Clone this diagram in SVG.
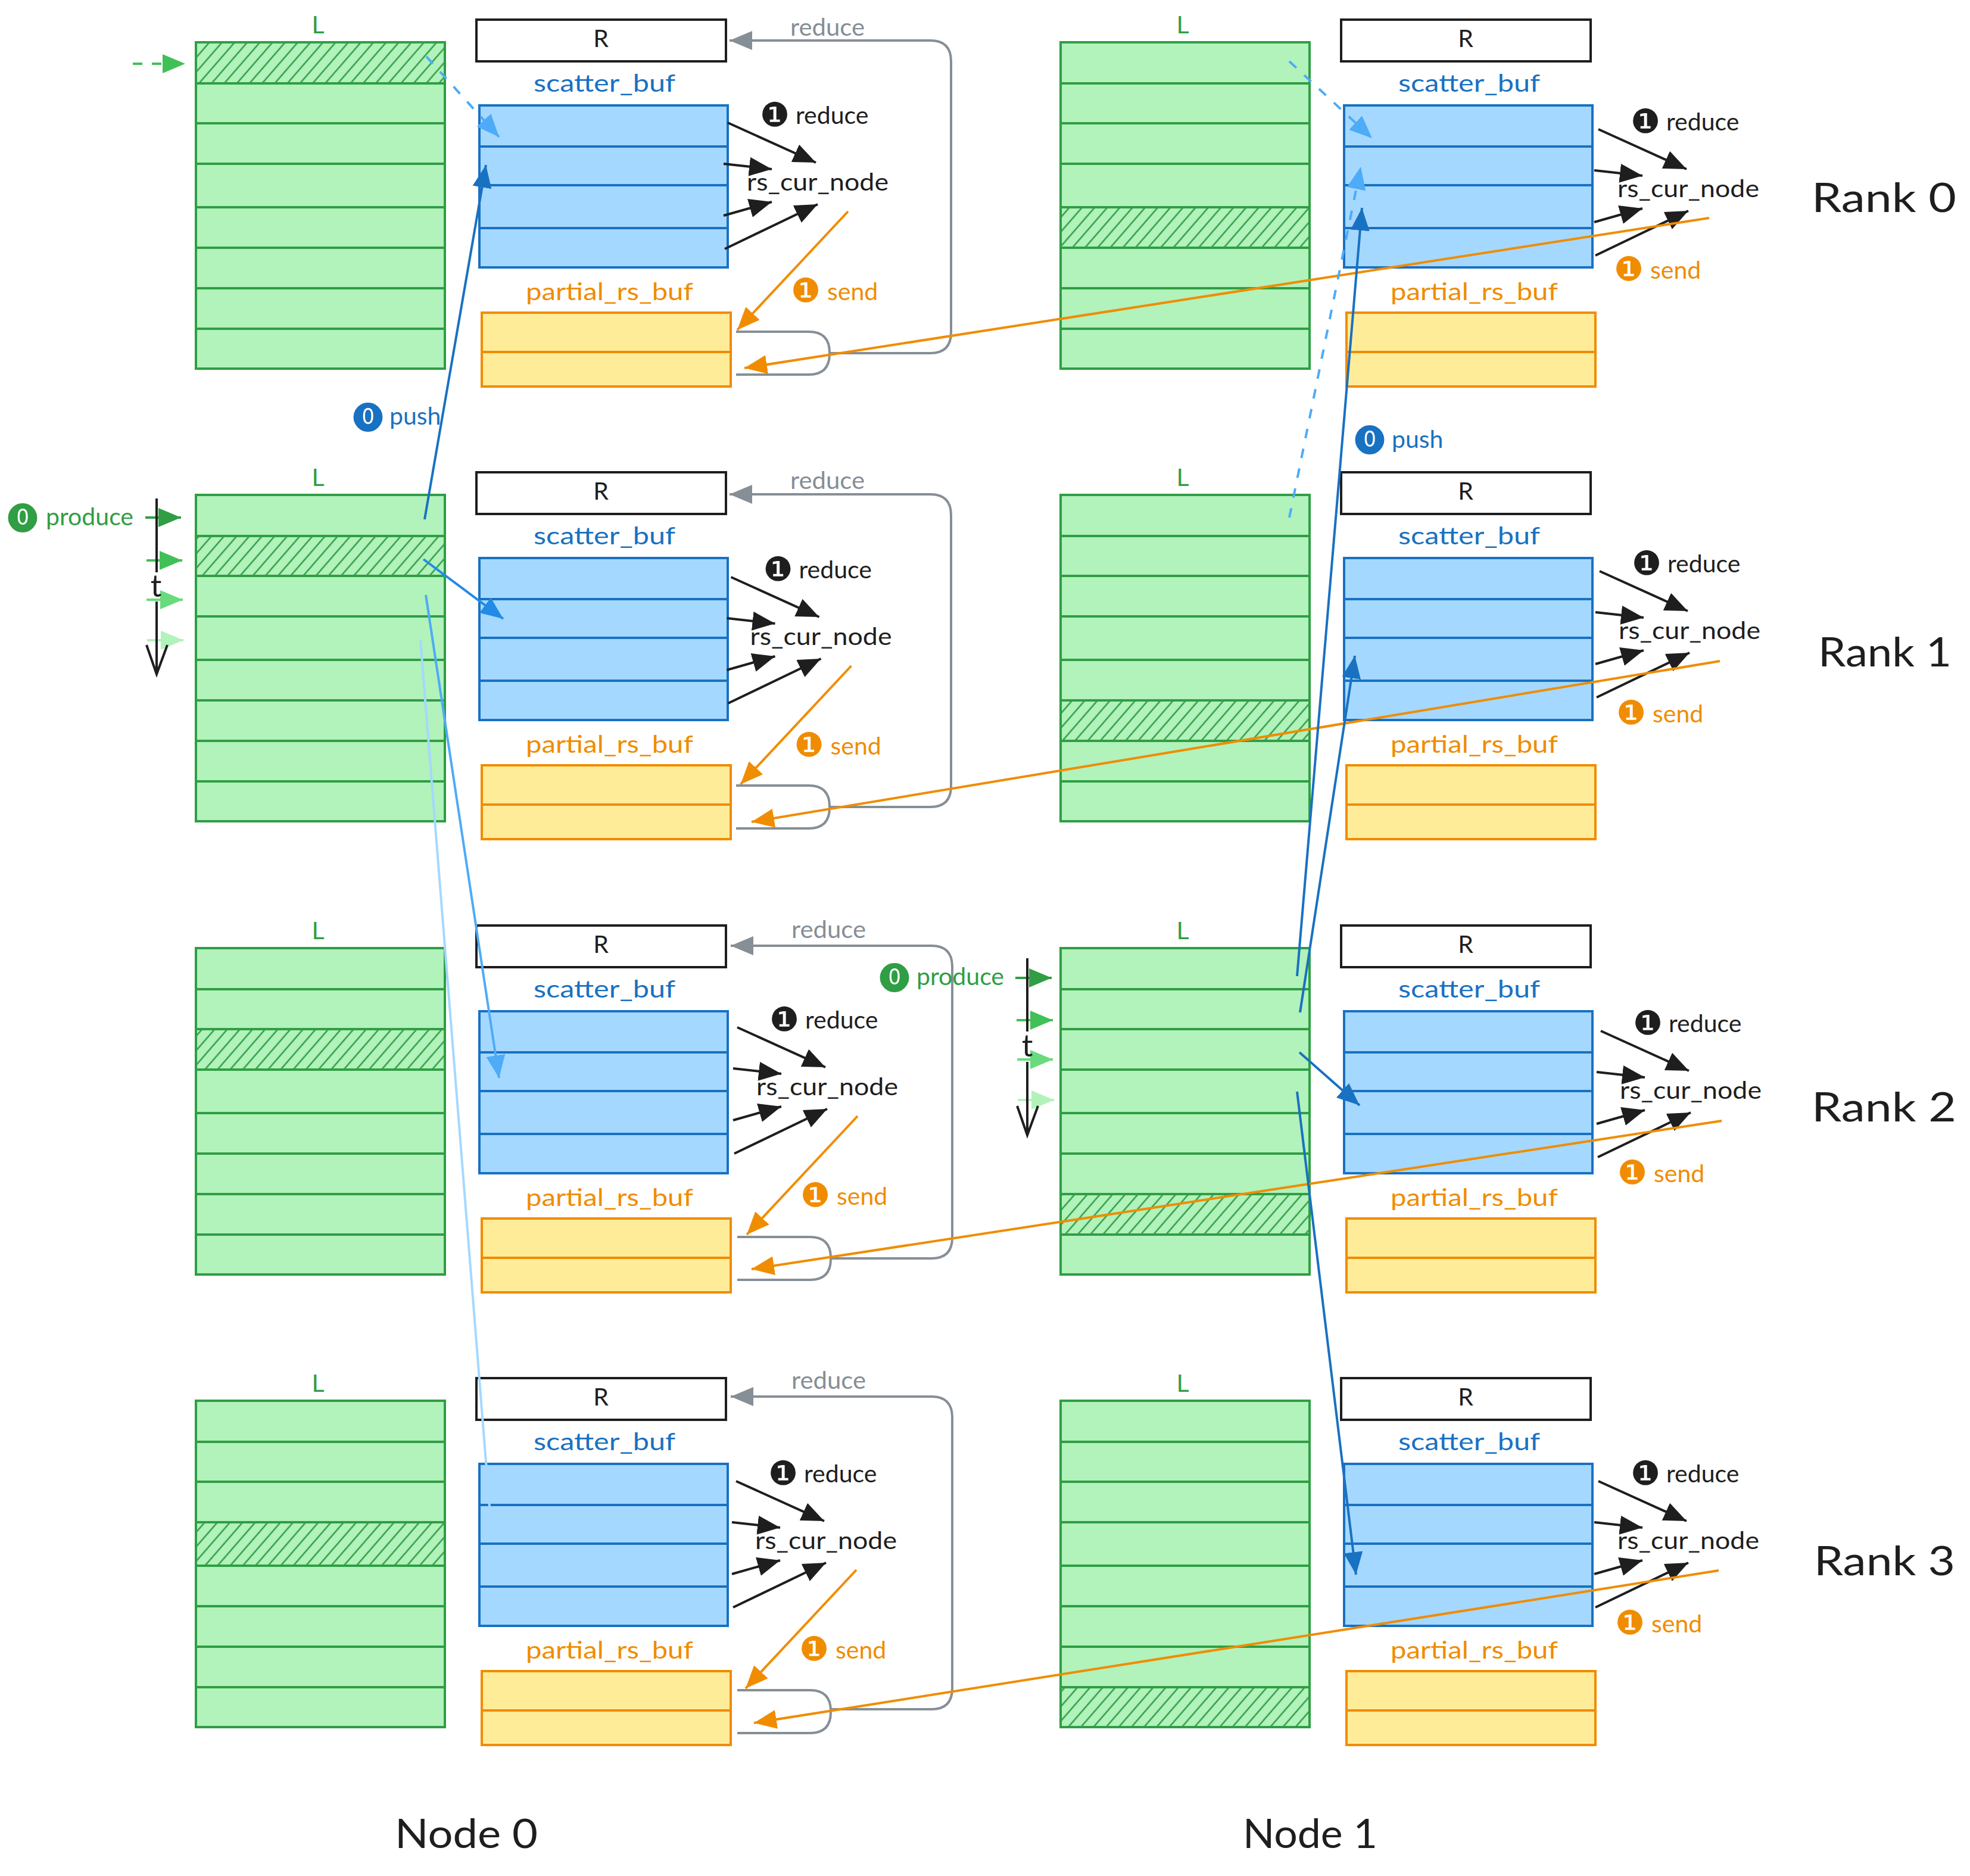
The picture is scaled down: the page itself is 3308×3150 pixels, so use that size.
<svg xmlns="http://www.w3.org/2000/svg" width="3308" height="3150" viewBox="0 0 3308 3150">
<style>
text{font-family:"Lato","DejaVu Sans",sans-serif;font-size:41px;fill:#1e1e1e}
.m{text-anchor:middle}
.g{fill:#2f9e44}.b{fill:#1971c2}.o{fill:#f08c00}.y{fill:#868e96}
.big{font-size:68px}
.t{font-size:52px}
.c{font-family:"DejaVu Sans",sans-serif;font-size:56px}
.z{font-family:"DejaVu Sans",sans-serif;font-size:49px}
.lf{fill:#b2f2bb;stroke:#2f9e44;stroke-width:4}
.ln{fill:none;stroke:#2f9e44;stroke-width:4}
.h{fill:url(#hatch)}
.rb{fill:#fff;stroke:#1e1e1e;stroke-width:4}
.sf{fill:#a5d8ff;stroke:#1971c2;stroke-width:4}
.sl{fill:none;stroke:#1971c2;stroke-width:4}
.pf{fill:#ffec99;stroke:#f08c00;stroke-width:4}
.pl{fill:none;stroke:#f08c00;stroke-width:4}
.a{fill:none;stroke-width:4}
.k{stroke:#1e1e1e;marker-end:url(#mk)}
.or{stroke:#f08c00;marker-end:url(#mo)}
.gy{stroke:#868e96;stroke-width:4;fill:none}
.gya{marker-end:url(#my)}
.b1{stroke:#1971c2;marker-end:url(#mb1)}
.b2{stroke:#228be6;marker-end:url(#mb2)}
.b3{stroke:#4dabf7;marker-end:url(#mb3)}
.b4{stroke:#a5d8ff;marker-end:url(#mb4)}
.ds{stroke-dasharray:16 18}
.g1{stroke:#2f9e44;marker-end:url(#mg1)}
.g2{stroke:#40c057;marker-end:url(#mg2)}
.g3{stroke:#69db7c;marker-end:url(#mg3)}
.g4{stroke:#b2f2bb;marker-end:url(#mg4)}
.ax{fill:none;stroke:#1e1e1e;stroke-width:4}
</style>
<defs>
<pattern id="hatch" patternUnits="userSpaceOnUse" width="16" height="16" patternTransform="rotate(41)"><path d="M8 0V16" stroke="#2f9e44" stroke-width="2.5"/></pattern>
<marker id="mk" markerUnits="userSpaceOnUse" markerWidth="38" markerHeight="32" refX="38" refY="16" orient="auto"><path d="M0 0L38 16L0 32z" fill="#1e1e1e"/></marker>
<marker id="mo" markerUnits="userSpaceOnUse" markerWidth="38" markerHeight="32" refX="38" refY="16" orient="auto"><path d="M0 0L38 16L0 32z" fill="#f08c00"/></marker>
<marker id="my" markerUnits="userSpaceOnUse" markerWidth="38" markerHeight="32" refX="38" refY="16" orient="auto"><path d="M0 0L38 16L0 32z" fill="#868e96"/></marker>
<marker id="mb1" markerUnits="userSpaceOnUse" markerWidth="38" markerHeight="32" refX="38" refY="16" orient="auto"><path d="M0 0L38 16L0 32z" fill="#1971c2"/></marker>
<marker id="mb2" markerUnits="userSpaceOnUse" markerWidth="38" markerHeight="32" refX="38" refY="16" orient="auto"><path d="M0 0L38 16L0 32z" fill="#228be6"/></marker>
<marker id="mb3" markerUnits="userSpaceOnUse" markerWidth="38" markerHeight="32" refX="38" refY="16" orient="auto"><path d="M0 0L38 16L0 32z" fill="#4dabf7"/></marker>
<marker id="mb4" markerUnits="userSpaceOnUse" markerWidth="38" markerHeight="32" refX="38" refY="16" orient="auto"><path d="M0 0L38 16L0 32z" fill="#a5d8ff"/></marker>
<marker id="mg1" markerUnits="userSpaceOnUse" markerWidth="38" markerHeight="32" refX="38" refY="16" orient="auto"><path d="M0 0L38 16L0 32z" fill="#2f9e44"/></marker>
<marker id="mg2" markerUnits="userSpaceOnUse" markerWidth="38" markerHeight="32" refX="38" refY="16" orient="auto"><path d="M0 0L38 16L0 32z" fill="#40c057"/></marker>
<marker id="mg3" markerUnits="userSpaceOnUse" markerWidth="38" markerHeight="32" refX="38" refY="16" orient="auto"><path d="M0 0L38 16L0 32z" fill="#69db7c"/></marker>
<marker id="mg4" markerUnits="userSpaceOnUse" markerWidth="38" markerHeight="32" refX="38" refY="16" orient="auto"><path d="M0 0L38 16L0 32z" fill="#b2f2bb"/></marker>
</defs>

<!-- Node 0 -->
<g id="n0r0" transform="translate(0,0)">
<g id="n0r0-L"><text class="m g" x="534" y="56">L</text><rect class="lf" x="329" y="71" width="418" height="548"/><rect class="h" x="329" y="71" width="418" height="69"/><path class="ln" d="M329 140H747M329 207H747M329 275H747M329 348H747M329 416H747M329 484H747M329 552H747"/></g>
<g id="n0r0-R"><rect class="rb" x="800" y="33" width="419" height="70"/><text class="m" x="1009" y="79">R</text></g>
<g id="n0r0-S"><text class="b" x="896" y="154" textLength="238" lengthAdjust="spacingAndGlyphs">scatter_buf</text><rect class="sf" x="805" y="177" width="417" height="272"/><path class="sl" d="M805 246H1222M805 311H1222M805 383H1222"/></g>
<g id="n0r0-P"><text class="o" x="883" y="504" textLength="281" lengthAdjust="spacingAndGlyphs">partial_rs_buf</text><rect class="pf" x="809" y="525" width="418" height="124"/><path class="pl" d="M809 591H1227"/></g>
</g>
<g id="n0r1" transform="translate(0,760)">
<g id="n0r1-L"><text class="m g" x="534" y="56">L</text><rect class="lf" x="329" y="71" width="418" height="548"/><rect class="h" x="329" y="140" width="418" height="67"/><path class="ln" d="M329 140H747M329 207H747M329 275H747M329 348H747M329 416H747M329 484H747M329 552H747"/></g>
<g id="n0r1-R"><rect class="rb" x="800" y="33" width="419" height="70"/><text class="m" x="1009" y="79">R</text></g>
<g id="n0r1-S"><text class="b" x="896" y="154" textLength="238" lengthAdjust="spacingAndGlyphs">scatter_buf</text><rect class="sf" x="805" y="177" width="417" height="272"/><path class="sl" d="M805 246H1222M805 311H1222M805 383H1222"/></g>
<g id="n0r1-P"><text class="o" x="883" y="504" textLength="281" lengthAdjust="spacingAndGlyphs">partial_rs_buf</text><rect class="pf" x="809" y="525" width="418" height="124"/><path class="pl" d="M809 591H1227"/></g>
</g>
<g id="n0r2" transform="translate(0,1521)">
<g id="n0r2-L"><text class="m g" x="534" y="56">L</text><rect class="lf" x="329" y="71" width="418" height="548"/><rect class="h" x="329" y="207" width="418" height="68"/><path class="ln" d="M329 140H747M329 207H747M329 275H747M329 348H747M329 416H747M329 484H747M329 552H747"/></g>
<g id="n0r2-R"><rect class="rb" x="800" y="33" width="419" height="70"/><text class="m" x="1009" y="79">R</text></g>
<g id="n0r2-S"><text class="b" x="896" y="154" textLength="238" lengthAdjust="spacingAndGlyphs">scatter_buf</text><rect class="sf" x="805" y="177" width="417" height="272"/><path class="sl" d="M805 246H1222M805 311H1222M805 383H1222"/></g>
<g id="n0r2-P"><text class="o" x="883" y="504" textLength="281" lengthAdjust="spacingAndGlyphs">partial_rs_buf</text><rect class="pf" x="809" y="525" width="418" height="124"/><path class="pl" d="M809 591H1227"/></g>
</g>
<g id="n0r3" transform="translate(0,2281)">
<g id="n0r3-L"><text class="m g" x="534" y="56">L</text><rect class="lf" x="329" y="71" width="418" height="548"/><rect class="h" x="329" y="275" width="418" height="73"/><path class="ln" d="M329 140H747M329 207H747M329 275H747M329 348H747M329 416H747M329 484H747M329 552H747"/></g>
<g id="n0r3-R"><rect class="rb" x="800" y="33" width="419" height="70"/><text class="m" x="1009" y="79">R</text></g>
<g id="n0r3-S"><text class="b" x="896" y="154" textLength="238" lengthAdjust="spacingAndGlyphs">scatter_buf</text><rect class="sf" x="805" y="177" width="417" height="272"/><path class="sl" d="M805 246H1222M805 311H1222M805 383H1222"/></g>
<g id="n0r3-P"><text class="o" x="883" y="504" textLength="281" lengthAdjust="spacingAndGlyphs">partial_rs_buf</text><rect class="pf" x="809" y="525" width="418" height="124"/><path class="pl" d="M809 591H1227"/></g>
</g>

<!-- Node 1 -->
<g id="n1r0" transform="translate(1452,0)">
<g id="n1r0-L"><text class="m g" x="534" y="56">L</text><rect class="lf" x="329" y="71" width="418" height="548"/><rect class="h" x="329" y="348" width="418" height="68"/><path class="ln" d="M329 140H747M329 207H747M329 275H747M329 348H747M329 416H747M329 484H747M329 552H747"/></g>
<g id="n1r0-R"><rect class="rb" x="800" y="33" width="419" height="70"/><text class="m" x="1009" y="79">R</text></g>
<g id="n1r0-S"><text class="b" x="896" y="154" textLength="238" lengthAdjust="spacingAndGlyphs">scatter_buf</text><rect class="sf" x="805" y="177" width="417" height="272"/><path class="sl" d="M805 246H1222M805 311H1222M805 383H1222"/></g>
<g id="n1r0-P"><text class="o" x="883" y="504" textLength="281" lengthAdjust="spacingAndGlyphs">partial_rs_buf</text><rect class="pf" x="809" y="525" width="418" height="124"/><path class="pl" d="M809 591H1227"/></g>
</g>
<g id="n1r1" transform="translate(1452,760)">
<g id="n1r1-L"><text class="m g" x="534" y="56">L</text><rect class="lf" x="329" y="71" width="418" height="548"/><rect class="h" x="329" y="416" width="418" height="68"/><path class="ln" d="M329 140H747M329 207H747M329 275H747M329 348H747M329 416H747M329 484H747M329 552H747"/></g>
<g id="n1r1-R"><rect class="rb" x="800" y="33" width="419" height="70"/><text class="m" x="1009" y="79">R</text></g>
<g id="n1r1-S"><text class="b" x="896" y="154" textLength="238" lengthAdjust="spacingAndGlyphs">scatter_buf</text><rect class="sf" x="805" y="177" width="417" height="272"/><path class="sl" d="M805 246H1222M805 311H1222M805 383H1222"/></g>
<g id="n1r1-P"><text class="o" x="883" y="504" textLength="281" lengthAdjust="spacingAndGlyphs">partial_rs_buf</text><rect class="pf" x="809" y="525" width="418" height="124"/><path class="pl" d="M809 591H1227"/></g>
</g>
<g id="n1r2" transform="translate(1452,1521)">
<g id="n1r2-L"><text class="m g" x="534" y="56">L</text><rect class="lf" x="329" y="71" width="418" height="548"/><rect class="h" x="329" y="484" width="418" height="68"/><path class="ln" d="M329 140H747M329 207H747M329 275H747M329 348H747M329 416H747M329 484H747M329 552H747"/></g>
<g id="n1r2-R"><rect class="rb" x="800" y="33" width="419" height="70"/><text class="m" x="1009" y="79">R</text></g>
<g id="n1r2-S"><text class="b" x="896" y="154" textLength="238" lengthAdjust="spacingAndGlyphs">scatter_buf</text><rect class="sf" x="805" y="177" width="417" height="272"/><path class="sl" d="M805 246H1222M805 311H1222M805 383H1222"/></g>
<g id="n1r2-P"><text class="o" x="883" y="504" textLength="281" lengthAdjust="spacingAndGlyphs">partial_rs_buf</text><rect class="pf" x="809" y="525" width="418" height="124"/><path class="pl" d="M809 591H1227"/></g>
</g>
<g id="n1r3" transform="translate(1452,2281)">
<g id="n1r3-L"><text class="m g" x="534" y="56">L</text><rect class="lf" x="329" y="71" width="418" height="548"/><rect class="h" x="329" y="552" width="418" height="67"/><path class="ln" d="M329 140H747M329 207H747M329 275H747M329 348H747M329 416H747M329 484H747M329 552H747"/></g>
<g id="n1r3-R"><rect class="rb" x="800" y="33" width="419" height="70"/><text class="m" x="1009" y="79">R</text></g>
<g id="n1r3-S"><text class="b" x="896" y="154" textLength="238" lengthAdjust="spacingAndGlyphs">scatter_buf</text><rect class="sf" x="805" y="177" width="417" height="272"/><path class="sl" d="M805 246H1222M805 311H1222M805 383H1222"/></g>
<g id="n1r3-P"><text class="o" x="883" y="504" textLength="281" lengthAdjust="spacingAndGlyphs">partial_rs_buf</text><rect class="pf" x="809" y="525" width="418" height="124"/><path class="pl" d="M809 591H1227"/></g>
</g>

<!-- connectors -->
<g id="connectors">
<g id="loops">
<g><path class="gy" d="M1236 557H1358Q1393 557 1393 592V594Q1393 629 1358 629H1236"/><path class="gy gya" d="M1393 593H1562Q1597 593 1597 558V103Q1597 68 1562 68H1225"/></g>
<g transform="translate(0,762)"><path class="gy" d="M1236 557H1358Q1393 557 1393 592V594Q1393 629 1358 629H1236"/><path class="gy gya" d="M1393 593H1562Q1597 593 1597 558V103Q1597 68 1562 68H1225"/></g>
<g transform="translate(2,1520)"><path class="gy" d="M1236 557H1358Q1393 557 1393 592V594Q1393 629 1358 629H1236"/><path class="gy gya" d="M1393 593H1562Q1597 593 1597 558V103Q1597 68 1562 68H1225"/></g>
<g transform="translate(2,2277)"><path class="gy" d="M1236 561H1358Q1393 561 1393 596V598Q1393 633 1358 633H1236"/><path class="gy gya" d="M1393 593H1562Q1597 593 1597 558V103Q1597 68 1562 68H1225"/></g>
</g>
<g id="reduce-arrows">
<g transform="translate(0,0)"><path class="a k" d="M1222 206L1370 273"/><path class="a k" d="M1215 275L1296 284"/><path class="a k" d="M1215 362L1296 339"/><path class="a k" d="M1217 418L1373 343"/><path class="a or" d="M1424 355L1238 554"/></g>
<g transform="translate(5.5,763)"><path class="a k" d="M1222 206L1370 273"/><path class="a k" d="M1215 275L1296 284"/><path class="a k" d="M1215 362L1296 339"/><path class="a k" d="M1217 418L1373 343"/><path class="a or" d="M1424 355L1238 554"/></g>
<g transform="translate(16,1519)"><path class="a k" d="M1222 206L1370 273"/><path class="a k" d="M1215 275L1296 284"/><path class="a k" d="M1215 362L1296 339"/><path class="a k" d="M1217 418L1373 343"/><path class="a or" d="M1424 355L1238 554"/></g>
<g transform="translate(14,2281)"><path class="a k" d="M1222 206L1370 273"/><path class="a k" d="M1215 275L1296 284"/><path class="a k" d="M1215 362L1296 339"/><path class="a k" d="M1217 418L1373 343"/><path class="a or" d="M1424 355L1238 554"/></g>
<g transform="translate(1462,11)"><path class="a k" d="M1222 206L1370 273"/><path class="a k" d="M1215 275L1296 284"/><path class="a k" d="M1215 362L1296 339"/><path class="a k" d="M1217 418L1373 343"/></g>
<g transform="translate(1464,753)"><path class="a k" d="M1222 206L1370 273"/><path class="a k" d="M1215 275L1296 284"/><path class="a k" d="M1215 362L1296 339"/><path class="a k" d="M1217 418L1373 343"/></g>
<g transform="translate(1466,1525)"><path class="a k" d="M1222 206L1370 273"/><path class="a k" d="M1215 275L1296 284"/><path class="a k" d="M1215 362L1296 339"/><path class="a k" d="M1217 418L1373 343"/></g>
<g transform="translate(1462,2281)"><path class="a k" d="M1222 206L1370 273"/><path class="a k" d="M1215 275L1296 284"/><path class="a k" d="M1215 362L1296 339"/><path class="a k" d="M1217 418L1373 343"/></g>
</g>
<g id="send-long">
<path class="a or" d="M2870 366L1250 618"/>
<path class="a or" d="M2888 1110L1262 1380"/>
<path class="a or" d="M2891 1882L1262 2131"/>
<path class="a or" d="M2886 2637L1266 2893"/>
</g>
<g id="push">
<path class="a g2" d="M223 107H311" stroke-dasharray="16 16"/>
<path class="a b3 ds" d="M716 95L838 230"/>
<path class="a b1" d="M713 872L816 277"/>
<path class="a b2" d="M711 939L845 1039"/>
<path class="a b3" d="M715 999L838 1810"/>
<path class="a b4" d="M706 1075L826 2580"/>
<path class="a b3 ds" d="M2165 103L2304 232"/>
<path class="a b3 ds" d="M2165 869L2285 280"/>
<path class="a b1" d="M2178 1639L2287 349"/>
<path class="a b1" d="M2183 1700L2275 1101"/>
<path class="a b1" d="M2182 1767L2283 1856"/>
<path class="a b1" d="M2178 1833L2277 2644"/>
</g>
<g id="produce-arrows">
<path class="a g1" d="M244 869H304"/><path class="a g2" d="M246 941H306"/><path class="a g3" d="M246 1007H307"/><path class="a g4" d="M247 1075H308"/>
<path class="ax" d="M263 837V961M263 1010V1130M246 1083L263 1132L281 1083"/>
<path class="a g1" d="M1705 1642H1766"/><path class="a g2" d="M1707 1713H1768"/><path class="a g3" d="M1708 1779H1768"/><path class="a g4" d="M1709 1847H1770"/>
<path class="ax" d="M1725 1609V1732M1725 1783V1904M1708 1857L1725 1906L1743 1857"/>
</g>
</g>

<!-- labels -->
<g id="labels">
<text class="y" x="1327" y="60" textLength="125" lengthAdjust="spacingAndGlyphs">reduce</text>
<text class="y" x="1327" y="821" textLength="125" lengthAdjust="spacingAndGlyphs">reduce</text>
<text class="y" x="1329" y="1575" textLength="125" lengthAdjust="spacingAndGlyphs">reduce</text>
<text class="y" x="1329" y="2332" textLength="125" lengthAdjust="spacingAndGlyphs">reduce</text>

<g transform="translate(0,0)"><text><tspan class="c" x="1276" y="212">❶</tspan><tspan x="1336" y="208">reduce</tspan></text><text x="1254" y="320" textLength="238" lengthAdjust="spacingAndGlyphs">rs_cur_node</text><text class="o"><tspan class="c o" x="1328" y="507">❶</tspan><tspan class="o" x="1389" y="504">send</tspan></text></g>
<g transform="translate(5.5,763)"><text><tspan class="c" x="1276" y="212">❶</tspan><tspan x="1336" y="208">reduce</tspan></text><text x="1254" y="320" textLength="238" lengthAdjust="spacingAndGlyphs">rs_cur_node</text><text class="o"><tspan class="c o" x="1328" y="507">❶</tspan><tspan class="o" x="1389" y="504">send</tspan></text></g>
<g transform="translate(16,1519)"><text><tspan class="c" x="1276" y="212">❶</tspan><tspan x="1336" y="208">reduce</tspan></text><text x="1254" y="320" textLength="238" lengthAdjust="spacingAndGlyphs">rs_cur_node</text><text class="o"><tspan class="c o" x="1328" y="507">❶</tspan><tspan class="o" x="1389" y="504">send</tspan></text></g>
<g transform="translate(14,2281)"><text><tspan class="c" x="1276" y="212">❶</tspan><tspan x="1336" y="208">reduce</tspan></text><text x="1254" y="320" textLength="238" lengthAdjust="spacingAndGlyphs">rs_cur_node</text><text class="o"><tspan class="c o" x="1328" y="507">❶</tspan><tspan class="o" x="1389" y="504">send</tspan></text></g>

<g transform="translate(1462,11)"><text><tspan class="c" x="1276" y="212">❶</tspan><tspan x="1336" y="208">reduce</tspan></text><text x="1254" y="320" textLength="238" lengthAdjust="spacingAndGlyphs">rs_cur_node</text></g>
<g transform="translate(1464,753)"><text><tspan class="c" x="1276" y="212">❶</tspan><tspan x="1336" y="208">reduce</tspan></text><text x="1254" y="320" textLength="238" lengthAdjust="spacingAndGlyphs">rs_cur_node</text></g>
<g transform="translate(1466,1525)"><text><tspan class="c" x="1276" y="212">❶</tspan><tspan x="1336" y="208">reduce</tspan></text><text x="1254" y="320" textLength="238" lengthAdjust="spacingAndGlyphs">rs_cur_node</text></g>
<g transform="translate(1462,2281)"><text><tspan class="c" x="1276" y="212">❶</tspan><tspan x="1336" y="208">reduce</tspan></text><text x="1254" y="320" textLength="238" lengthAdjust="spacingAndGlyphs">rs_cur_node</text></g>
<text><tspan class="c o" x="2710" y="471">❶</tspan><tspan class="o" x="2771" y="468">send</tspan></text>
<text><tspan class="c o" x="2714" y="1216">❶</tspan><tspan class="o" x="2775" y="1213">send</tspan></text>
<text><tspan class="c o" x="2716" y="1988">❶</tspan><tspan class="o" x="2777" y="1985">send</tspan></text>
<text><tspan class="c o" x="2712" y="2744">❶</tspan><tspan class="o" x="2773" y="2741">send</tspan></text>

<text><tspan class="z b" x="593" y="711">⓿</tspan><tspan class="b" x="654" y="713">push</tspan></text>
<text><tspan class="z b" x="2275" y="749">⓿</tspan><tspan class="b" x="2337" y="752">push</tspan></text>
<text><tspan class="z g" x="13" y="880">⓿</tspan><tspan class="g" x="77" y="882">produce</tspan></text>
<text><tspan class="z g" x="1477" y="1652">⓿</tspan><tspan class="g" x="1539" y="1654">produce</tspan></text>
<text class="m t" x="262" y="1002">t</text>
<text class="m t" x="1725" y="1774">t</text>

<text class="big" x="3042" y="356" textLength="243" lengthAdjust="spacingAndGlyphs">Rank 0</text>
<text class="big" x="3053" y="1119" textLength="224" lengthAdjust="spacingAndGlyphs">Rank 1</text>
<text class="big" x="3042" y="1883" textLength="243" lengthAdjust="spacingAndGlyphs">Rank 2</text>
<text class="big" x="3046" y="2645" textLength="237" lengthAdjust="spacingAndGlyphs">Rank 3</text>
<text class="big" x="663" y="3103" textLength="240" lengthAdjust="spacingAndGlyphs">Node 0</text>
<text class="big" x="2087" y="3103" textLength="226" lengthAdjust="spacingAndGlyphs">Node 1</text>
</g>
</svg>
